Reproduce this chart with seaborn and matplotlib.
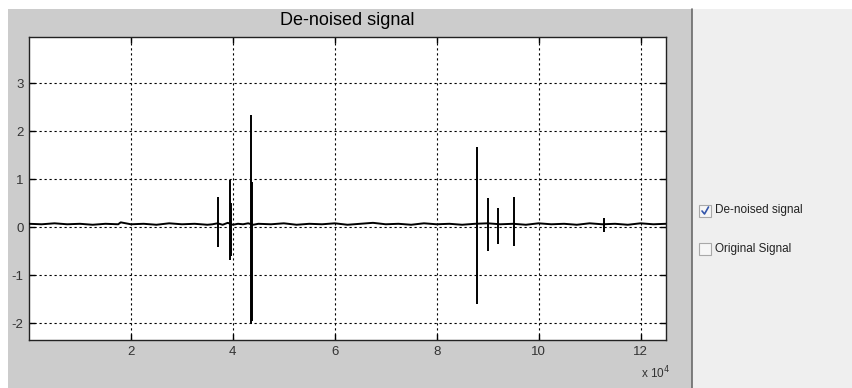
import numpy as np
import pandas as pd
import matplotlib
matplotlib.use("Agg")
import matplotlib.pyplot as plt
from matplotlib.patches import Rectangle
from matplotlib.lines import Line2D
import seaborn as sns

# ---- data -----------------------------------------------------------------
# slowly varying background of the de-noised signal (sample index, amplitude)
base_x = [0, 2500, 5000, 7500, 10000, 12500, 15000, 17500, 18000, 20000,
          22500, 25000, 27500, 30000, 32500, 35000, 36000, 37000, 38000, 39000,
          40000, 41000, 42000, 43000, 44000, 45000, 47500, 50000, 52500, 55000,
          57500, 60000, 62500, 65000, 67500, 70000, 72500, 75000, 77500, 80000,
          82500, 85000, 87500, 90000, 92500, 95000, 97500, 100000, 102500,
          105000, 107500, 110000, 112500, 115000, 117500, 120000, 122500, 125000]
base_y = [0.07, 0.06, 0.08, 0.06, 0.07, 0.05, 0.07, 0.06, 0.10, 0.06,
          0.07, 0.05, 0.08, 0.06, 0.07, 0.05, 0.06, 0.08, 0.05, 0.09,
          0.05, 0.07, 0.06, 0.08, 0.05, 0.07, 0.06, 0.08, 0.05, 0.07,
          0.06, 0.08, 0.05, 0.07, 0.09, 0.06, 0.07, 0.05, 0.08, 0.06,
          0.07, 0.05, 0.07, 0.08, 0.06, 0.07, 0.05, 0.08, 0.06, 0.07,
          0.05, 0.08, 0.06, 0.07, 0.05, 0.08, 0.06, 0.07]

# transient bursts: position, maximum, minimum
spike_x = [37100, 39400, 39700, 43500, 43800, 88000, 90100, 92100, 95100, 112900]
spike_hi = [0.63, 0.99, 0.50, 2.33, 0.94, 1.66, 0.60, 0.40, 0.63, 0.20]
spike_lo = [-0.41, -0.69, -0.60, -2.02, -1.95, -1.61, -0.50, -0.36, -0.39, -0.10]

x_ticks = [20000, 40000, 60000, 80000, 100000, 120000]
x_tick_labels = ["2", "4", "6", "8", "10", "12"]
y_ticks = [-2, -1, 0, 1, 2, 3]
y_tick_labels = ["-2", "-1", "0", "1", "2", "3"]

panel_labels = ["De-noised signal", "Original Signal"]
panel_checked = [True, False]

# ---- style ----------------------------------------------------------------
sns.set_theme(style="white")
plt.rcParams["font.family"] = ["Liberation Sans", "DejaVu Sans"]

W, H = 852, 388
fig = plt.figure(figsize=(W / 100, H / 100), dpi=100)
fig.patch.set_facecolor("white")

# gray figure panel and light side panel (drawn beneath the axes)
fig.patches.append(Rectangle((8 / W, 0), (692 - 8) / W, (H - 9) / H,
                             transform=fig.transFigure, facecolor="#cccccc",
                             edgecolor="none", zorder=-10))
fig.patches.append(Rectangle((692 / W, 0), (W - 692) / W, (H - 9) / H,
                             transform=fig.transFigure, facecolor="#efefef",
                             edgecolor="none", zorder=-10))
fig.lines.append(Line2D([691.5 / W, 691.5 / W], [0, (H - 9) / H],
                        transform=fig.transFigure, color="#6a6a6a", lw=1.2,
                        zorder=-5))

ax = fig.add_axes([29 / W, (H - 340) / H, (666 - 29) / W, (340 - 37) / H])
ax.set_facecolor("white")
ax.set_zorder(1)

df = pd.DataFrame({"sample": base_x, "amplitude": base_y})
sns.lineplot(data=df, x="sample", y="amplitude", ax=ax, color="black",
             lw=1.4, zorder=3)
ax.vlines(spike_x, spike_lo, spike_hi, colors="black", lw=1.4, zorder=3)

ax.set_xlim(0, 125000)
ax.set_ylim(-2.35, 3.96)
ax.set_xticks(x_ticks)
ax.set_xticklabels(x_tick_labels)
ax.set_yticks(y_ticks)
ax.set_yticklabels(y_tick_labels)
ax.set_xlabel("")
ax.set_ylabel("")

ax.grid(True, color="black", linestyle=(0, (2, 2.5)), lw=0.8)
ax.tick_params(axis="both", direction="in", length=4, width=1,
               colors="black", labelcolor="#333333", labelsize=9.5,
               top=True, right=True, bottom=True, left=True, pad=4)
for s in ax.spines.values():
    s.set_visible(True)
    s.set_color("#222222")
    s.set_linewidth(1.0)

ax.set_title("De-noised signal", fontsize=13, color="black", pad=8.5)
fig.text(641 / W, 1 - 373 / H, r"x 10$^{4}$", fontsize=8.5, color="#333333",
         va="center", ha="left")

# side panel check boxes
box_y = [210.5, 249]
for label, checked, yc in zip(panel_labels, panel_checked, box_y):
    fig.patches.append(Rectangle((699 / W, 1 - (yc + 6) / H), 12 / W, 12 / H,
                                 transform=fig.transFigure,
                                 facecolor="#f6f6f6", edgecolor="#a8a8a8",
                                 lw=0.8, zorder=2))
    if checked:
        fig.lines.append(Line2D([702 / W, 704.5 / W, 708.5 / W],
                                [1 - (yc + 0.5) / H, 1 - (yc + 3.5) / H,
                                 1 - (yc - 3.5) / H],
                                transform=fig.transFigure, color="#3355aa",
                                lw=1.2, zorder=3))
    fig.text(715 / W, 1 - yc / H, label, fontsize=8.5, color="#222222",
             va="center", ha="left")

fig.savefig("out.png", dpi=100, facecolor=fig.get_facecolor())
